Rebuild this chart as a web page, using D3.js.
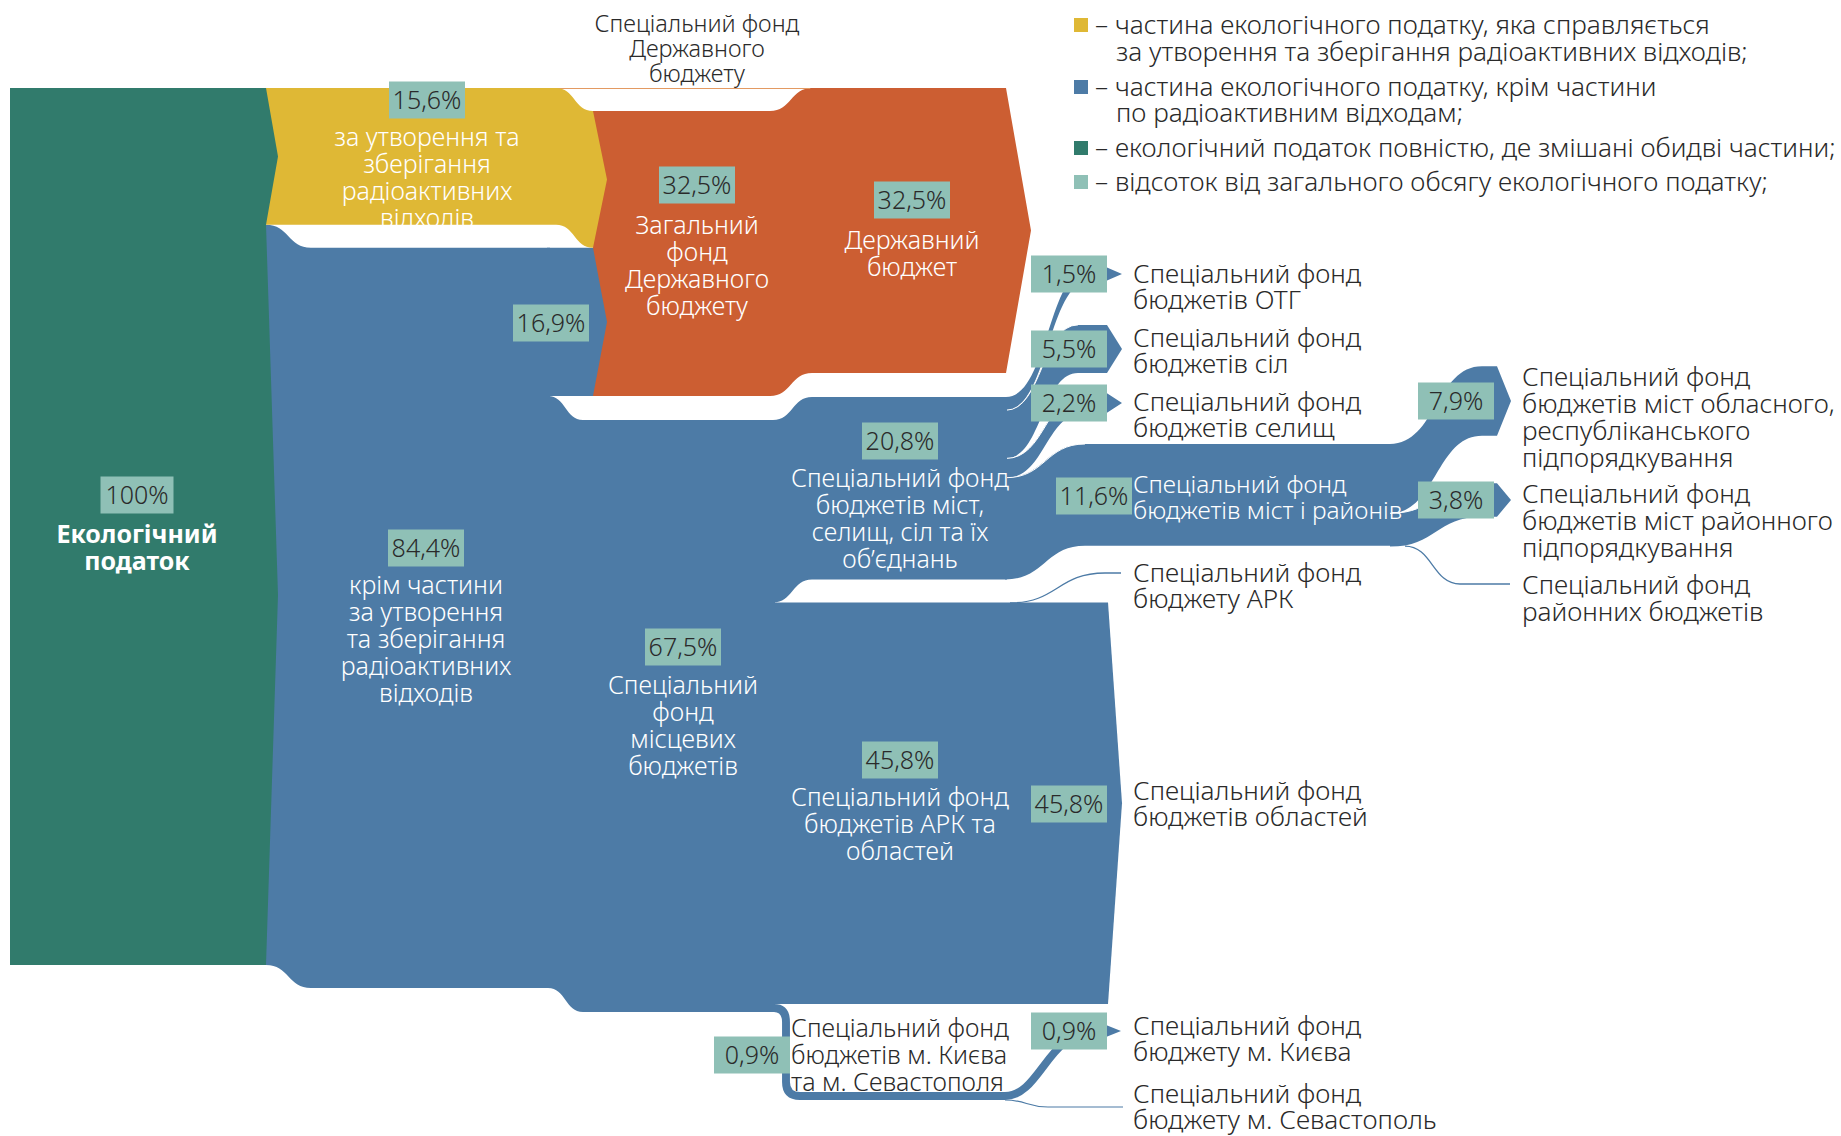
<!DOCTYPE html>
<html>
<head>
<meta charset="utf-8">
<script src="https://cdn.jsdelivr.net/npm/d3@7"></script>
<style>
  body { margin: 0; background: #fff; }
  svg { display: block; font-family: "Noto Sans", "Open Sans", sans-serif; }
</style>
</head>
<body>
<svg id="chart" width="1841" height="1136"></svg>
<script>
// values, % of the whole ecological tax
const taxTotal = [100];
const taxSplit = [15.6, 84.4];            // radioactive part, the rest
const restSplit = [16.9, 67.5];           // to state general fund, to local budgets
const stateBudget = [32.5, 32.5];         // general fund, state budget
const localSplit = [20.8, 45.8, 0.9];     // cities/villages, ARC+oblasts, Kyiv+Sevastopol
const citySplit = [1.5, 5.5, 2.2, 11.6];  // OTG, villages, settlements, cities & districts
const districtSplit = [7.9, 3.8, 0];      // oblast cities, district cities, district budgets
const oblastSplit = [0, 45.8];            // ARC, oblasts
const kyivSplit = [0.9, 0];               // Kyiv, Sevastopol

const legendItems = [
  ["– частина екологічного податку, яка справляється", "за утворення та зберігання радіоактивних відходів;"],
  ["– частина екологічного податку, крім частини", "по радіоактивним відходам;"],
  ["– екологічний податок повністю, де змішані обидві частини;"],
  ["– відсоток від загального обсягу екологічного податку;"]
];
const cityLabels = [
  ["Спеціальний фонд", "бюджетів ОТГ"],
  ["Спеціальний фонд", "бюджетів сіл"],
  ["Спеціальний фонд", "бюджетів селищ"],
  ["Спеціальний фонд", "бюджетів міст і районів"]
];
const districtLabels = [
  ["Спеціальний фонд", "бюджетів міст обласного,", "республіканського", "підпорядкування"],
  ["Спеціальний фонд", "бюджетів міст районного", "підпорядкування"],
  ["Спеціальний фонд", "районних бюджетів"]
];
const oblastLabels = [["Спеціальний фонд", "бюджету АРК"], ["Спеціальний фонд", "бюджетів областей"]];
const kyivLabels = [["Спеціальний фонд", "бюджету м. Києва"], ["Спеціальний фонд", "бюджету м. Севастополь"]];

var colors = {
  green: '#317b6c', yellow: '#dfb835', blue: '#4d7ba6',
  orange: '#cc5e32', teal: '#8fc0b6', text: '#2a2a2a'
};

var svg = d3.select('#chart');
var k = d3.scaleLinear().domain([0, 100]).range([0, 877]);
var fmt = function(v){ return v === 100 ? '100%' : d3.format('.1f')(v).replace('.', ',') + '%'; };

// ribbon with horizontal-tangent curves between points [x, yTop]
function ribbon(pts, t, tip){
  var p = d3.path();
  p.moveTo(pts[0][0], pts[0][1]);
  for(var i = 1; i < pts.length; i++){
    var a = pts[i-1], b = pts[i], xm = (a[0] + b[0]) / 2;
    p.bezierCurveTo(xm, a[1], xm, b[1], b[0], b[1]);
  }
  var last = pts[pts.length-1];
  if(tip) p.lineTo(last[0] + tip, last[1] + t/2);
  p.lineTo(last[0], last[1] + t);
  for(var j = pts.length - 1; j > 0; j--){
    var a2 = pts[j], b2 = pts[j-1], xm2 = (a2[0] + b2[0]) / 2;
    p.bezierCurveTo(xm2, a2[1] + t, xm2, b2[1] + t, b2[0], b2[1] + t);
  }
  p.closePath();
  return p.toString();
}
function edge(pts){
  var p = d3.path();
  p.moveTo(pts[0][0], pts[0][1]);
  for(var i = 1; i < pts.length; i++){
    var a = pts[i-1], b = pts[i], xm = (a[0] + b[0]) / 2;
    p.bezierCurveTo(xm, a[1], xm, b[1], b[0], b[1]);
  }
  return p.toString();
}
function band(pts, t, fill, tip){
  return svg.append('path').attr('d', ribbon(pts, t, tip)).attr('fill', fill);
}
function line(pts, color, w){
  svg.append('path').attr('d', edge(pts)).attr('fill', 'none')
    .attr('stroke', color).attr('stroke-width', w);
}
function lines(arr, x, y, lh, opts){
  opts = opts || {};
  var t = svg.append('text')
    .attr('x', x).attr('y', y)
    .attr('text-anchor', opts.anchor || 'start')
    .attr('fill', opts.fill || colors.text)
    .attr('font-size', opts.size || 25)
    .attr('font-weight', opts.weight || 300);
  arr.forEach(function(s, i){
    t.append('tspan').attr('x', x).attr('dy', i === 0 ? '0.35em' : lh).text(s);
  });
}
function pct(v, cx, cy, w){
  w = w || 76;
  svg.append('rect').attr('x', cx - w/2).attr('y', cy - 18.5)
    .attr('width', w).attr('height', 37).attr('fill', colors.teal);
  svg.append('text').attr('x', cx).attr('y', cy).attr('dy', '0.35em')
    .attr('text-anchor', 'middle').attr('font-size', 25).attr('font-weight', 300)
    .attr('fill', colors.text).text(fmt(v));
}

// layout
var Y0 = 88;
var yYel = Y0, tYel = k(taxSplit[0]);
var yBlue = Y0 + tYel + 23;                 // non-radioactive part after the drop
var yLocal0 = yBlue + k(restSplit[0]);
var yLocal = yLocal0 + 24;
var yCity = yLocal - 23;
var yObl = yLocal + k(localSplit[0]);
var yKyiv = yObl + k(localSplit[1]);

// downstream first, upstream tips drawn over them
// orange: general fund -> state budget
band([[593, Y0 + 23], [770, Y0 + 23], [812, Y0], [1006, Y0]], k(stateBudget[0]), colors.orange, 25);
line([[556, Y0 + 0.5], [810, Y0 + 0.5]], '#e39a62', 1.2);

// oblasts
band([[772, yObl], [1108, yObl]], k(oblastSplit[1]), colors.blue, 14);
line([[1010, yObl + 0.5], [1105, 573], [1121, 573]], colors.blue, 1.3);

// city branches
var cityTargets = [274, 349, 403];
var yc = yCity;
var cityStarts = [];
citySplit.forEach(function(v, i){ cityStarts.push(yc); yc += k(v); });
band([[1006, cityStarts[0]], [1090, cityTargets[0] - k(citySplit[0])/2], [1107, cityTargets[0] - k(citySplit[0])/2]], k(citySplit[0]), colors.blue, 15);
band([[1006, cityStarts[1]], [1078, cityTargets[1] - k(citySplit[1])/2], [1107, cityTargets[1] - k(citySplit[1])/2]], k(citySplit[1]), colors.blue, 15);
band([[1006, cityStarts[2]], [1085, cityTargets[2] - k(citySplit[2])/2], [1107, cityTargets[2] - k(citySplit[2])/2]], k(citySplit[2]), colors.blue, 15);
var yDist = 444;
band([[1005, cityStarts[3]], [1085, yDist], [1392, yDist]], k(citySplit[3]), colors.blue);

// district branches
var distTargets = [401, 500];
band([[1390, yDist], [1482, distTargets[0] - k(districtSplit[0])/2], [1497, distTargets[0] - k(districtSplit[0])/2]], k(districtSplit[0]), colors.blue, 14);
band([[1390, yDist + k(districtSplit[0])], [1482, distTargets[1] - k(districtSplit[1])/2], [1497, distTargets[1] - k(districtSplit[1])/2]], k(districtSplit[1]), colors.blue, 14);
line([[1405, yDist + k(districtSplit[0]) + k(districtSplit[1]) - 0.5], [1460, 584], [1510, 584]], colors.blue, 1.3);

// separators between branches
line([[1006, cityStarts[1]], [1078, cityTargets[1] - k(citySplit[1])/2]], '#fff', 1);
line([[1006, cityStarts[2]], [1085, cityTargets[2] - k(citySplit[2])/2]], '#fff', 1);
line([[1006, cityStarts[3]], [1085, yDist]], '#fff', 1);
line([[1390, yDist + k(districtSplit[0])], [1482, distTargets[1] - k(districtSplit[1])/2]], '#fff', 1);

// cities node band
band([[773, yLocal], [812, yCity], [1007, yCity]], k(localSplit[0]), colors.blue);

// Kyiv & Sevastopol U-band
var tK = k(localSplit[2]);
var yk = yKyiv + tK/2;
svg.append('path')
  .attr('d', 'M770,' + yk + ' H774 Q786,' + yk + ' 786,' + (yk + 14) + ' V1082 Q786,1096 800,1096 H1005 C1040,1096 1048,1031 1095,1031 H1108')
  .attr('fill', 'none').attr('stroke', colors.blue).attr('stroke-width', tK);
svg.append('path').attr('d', 'M1106,1025 L1121,1031 L1106,1037 Z').attr('fill', colors.blue);
line([[1005, 1100], [1048, 1107], [1123, 1107]], colors.blue, 1.2);

// local budgets, non-radioactive part
band([[548, yLocal0], [583, yLocal], [775, yLocal]], k(restSplit[1]), colors.blue);
band([[547, yBlue], [593, yBlue]], k(restSplit[0]), colors.blue, 14);
band([[266, Y0 + tYel], [311, yBlue], [550, yBlue]], k(taxSplit[1]), colors.blue);

// radioactive part
band([[266, yYel], [556, yYel], [593, yYel + 23]], tYel, colors.yellow, 14);

// whole tax
var g = d3.path();
g.moveTo(10, Y0); g.lineTo(266, Y0);
g.lineTo(278, Y0 + tYel/2); g.lineTo(266, Y0 + tYel);
g.lineTo(278, Y0 + tYel + k(taxSplit[1])/2); g.lineTo(266, Y0 + k(taxTotal[0]));
g.lineTo(10, Y0 + k(taxTotal[0])); g.closePath();
svg.append('path').attr('d', g.toString()).attr('fill', colors.green);

// labels inside the flows
var W = {fill: '#fff', anchor: 'middle'};
lines(['Екологічний', 'податок'], 137, 534, 27, {fill: '#fff', anchor: 'middle', weight: 700});
lines(['за утворення та', 'зберігання', 'радіоактивних', 'відходів'], 427, 137, 27, W);
lines(['крім частини', 'за утворення', 'та зберігання', 'радіоактивних', 'відходів'], 426, 585, 27, W);
lines(['Загальний', 'фонд', 'Державного', 'бюджету'], 697, 225, 27, W);
lines(['Державний', 'бюджет'], 912, 240, 27, W);
lines(['Спеціальний', 'фонд', 'місцевих', 'бюджетів'], 683, 685, 27, W);
lines(['Спеціальний фонд', 'бюджетів міст,', 'селищ, сіл та їх', 'об’єднань'], 900, 478, 27, W);
lines(['Спеціальний фонд', 'бюджетів АРК та', 'областей'], 900, 797, 27, W);
lines(['Спеціальний фонд', 'Державного', 'бюджету'], 697, 24, 25, {anchor: 'middle', size: 23.5});
lines(['Спеціальний фонд', 'бюджетів м. Києва', 'та м. Севастополя'], 791, 1028, 27);

// destination labels
var R = {size: 26.2};
var cityLabelY = [274, 338, 402];
cityLabels.forEach(function(l, i){
  if(i < 3) lines(l, 1133, cityLabelY[i], 26, R);
  else lines(l, 1133, 484, 26, {fill: '#fff', size: 24.5});
});
[377, 494, 585].forEach(function(y, i){ lines(districtLabels[i], 1522, y, 27, R); });
lines(oblastLabels[0], 1133, 573, 26, R);
lines(oblastLabels[1], 1133, 791, 26, R);
lines(kyivLabels[0], 1133, 1026, 26, R);
lines(kyivLabels[1], 1133, 1094, 25.5, R);

// percent boxes
pct(taxTotal[0], 137, 495, 73);
pct(taxSplit[0], 427, 100);
pct(taxSplit[1], 426, 548);
pct(restSplit[0], 551, 323);
pct(restSplit[1], 683, 647);
pct(stateBudget[0], 697, 185);
pct(stateBudget[1], 912, 200);
pct(localSplit[0], 900, 441);
pct(localSplit[1], 900, 760);
pct(oblastSplit[1], 1069, 804);
pct(localSplit[2], 752, 1055);
pct(kyivSplit[0], 1069, 1031);
pct(citySplit[0], 1069, 274);
pct(citySplit[1], 1069, 349);
pct(citySplit[2], 1069, 403);
pct(citySplit[3], 1094, 496);
pct(districtSplit[0], 1456, 401);
pct(districtSplit[1], 1456, 500);

// legend
var legendColors = [colors.yellow, colors.blue, colors.green, colors.teal];
var legendY = [[25, 52], [87, 113], [148], [182]];
legendItems.forEach(function(item, i){
  svg.append('rect').attr('x', 1074).attr('y', legendY[i][0] - 7)
    .attr('width', 14).attr('height', 14).attr('fill', legendColors[i]);
  item.forEach(function(s, j){
    svg.append('text').attr('x', j === 0 ? 1095 : 1116).attr('y', legendY[i][j])
      .attr('dy', '0.35em').attr('font-size', 26.2).attr('font-weight', 300)
      .attr('fill', colors.text).text(s);
  });
});
</script>
</body>
</html>
